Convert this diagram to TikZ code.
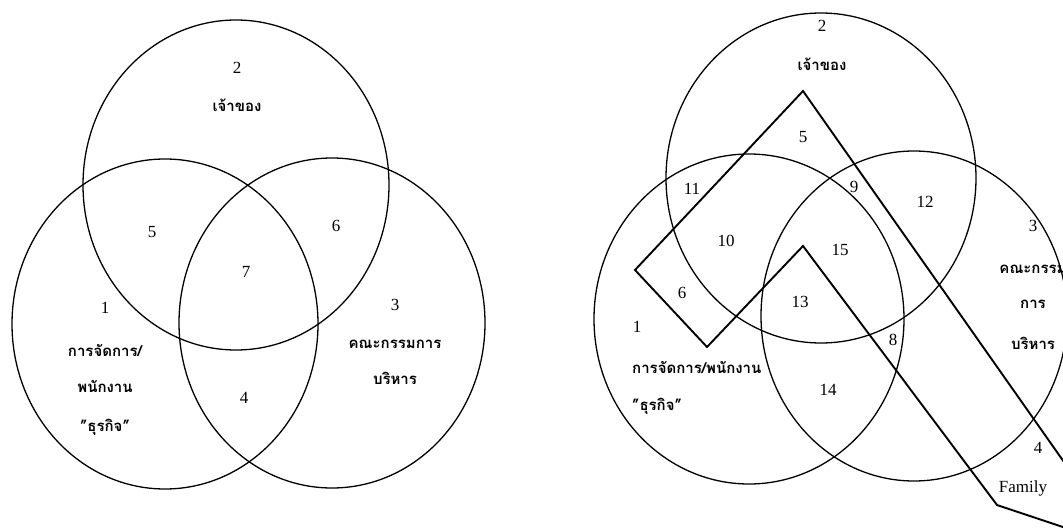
\documentclass[tikz,border=0pt]{standalone}
\usepackage{fontspec}
\setmainfont{Liberation Serif}
\newfontfamily\thaifont[Script=Thai]{Loma}
\usetikzlibrary{positioning}
\tikzset{
  vennset/.style={line width=1.3pt},
  vennnum/.style={font=\fontsize{17}{17}\selectfont, inner sep=0pt},
  venntext/.style={font=\thaifont\bfseries\fontsize{15}{18}\selectfont, inner sep=0pt, align=center},
  familyline/.style={line width=1.9pt, line join=miter},
}

\begin{document}
\begin{tikzpicture}[x=1pt, y=-1pt]
  \useasboundingbox (0,0) rectangle (1063,530);
  % left venn
  \coordinate (ownA) at (236,185);
  \coordinate (mgtA) at (165,324);
  \coordinate (brdA) at (332,323);
  \draw[vennset] (ownA) ellipse [x radius=153, y radius=165];
  \draw[vennset] (mgtA) ellipse [x radius=153, y radius=165];
  \draw[vennset] (brdA) ellipse [x radius=153, y radius=165];
  \node[vennnum] (a2) at (237,68) {2};
  \node[venntext, below=25pt of a2] (a2t) {เจ้าของ};
  \node[vennnum] (a5) at (152,232) {5};
  \node[vennnum] (a6) at (336,226) {6};
  \node[vennnum] (a7) at (246,272) {7};
  \node[vennnum] (a4) at (244,398) {4};
  \node[vennnum] (a1) at (105,308) {1};
  \node[venntext, below=30pt of a1] (a1t) {การจัดการ/};
  \node[venntext, below=24pt of a1t] (a1u) {พนักงาน};
  \node[venntext, below=26pt of a1u] (a1v) {”ธุรกิจ”};
  \node[vennnum] (a3) at (395,305) {3};
  \node[venntext, below=29pt of a3] (a3t) {คณะกรรมการ};
  \node[venntext, below=23pt of a3t] (a3u) {บริหาร};

  % right venn with family
  \coordinate (ownB) at (821,178);
  \coordinate (mgtB) at (749,319);
  \coordinate (brdB) at (914,316);
  \draw[vennset] (ownB) ellipse [x radius=155, y radius=165];
  \draw[vennset] (mgtB) ellipse [x radius=155, y radius=165];
  \draw[vennset] (brdB) ellipse [x radius=153, y radius=165];
  \coordinate (fr) at (1090,499);
  \coordinate (ftop) at (803,91);
  \coordinate (fleft) at (635,270);
  \coordinate (fbot) at (707,347);
  \coordinate (fnotch) at (803,246);
  \coordinate (flow) at (997,505);
  \coordinate (fend) at (1090,536);
  \draw[familyline] (fr) -- (ftop) -- (fleft) -- (fbot) -- (fnotch) -- (flow) -- (fend);
  \node[vennnum] (b2) at (822,26) {2};
  \node[venntext, below=26pt of b2] (b2t) {เจ้าของ};
  \node[vennnum] (b5) at (803,137) {5};
  \node[vennnum] (b11) at (692,189) {11};
  \node[vennnum] (b9) at (854,187) {9};
  \node[vennnum] (b12) at (925,202) {12};
  \node[vennnum] (b10) at (726,241) {10};
  \node[vennnum] (b15) at (840,250) {15};
  \node[vennnum] (b6) at (682,293) {6};
  \node[vennnum] (b13) at (800,302) {13};
  \node[vennnum] (b8) at (893,340) {8};
  \node[vennnum] (b14) at (828,390) {14};
  \node[vennnum] (b1) at (637,327) {1};
  \node[venntext, anchor=west] (b1t) at (632,367) {การจัดการ/พนักงาน};
  \node[venntext, below=25pt of b1t.south west, anchor=north west] (b1u) {”ธุรกิจ”};
  \node[vennnum] (b3) at (1033,226) {3};
  \node[venntext, below=33pt of b3] (b3t) {คณะกรรม};
  \node[venntext, below=26pt of b3t] (b3u) {การ};
  \node[venntext, below=28pt of b3u] (b3v) {บริหาร};
  \node[vennnum] (b4) at (1038,448) {4};
  \node[vennnum] (bfam) at (1023,488) {Family};
\end{tikzpicture}
\end{document}
